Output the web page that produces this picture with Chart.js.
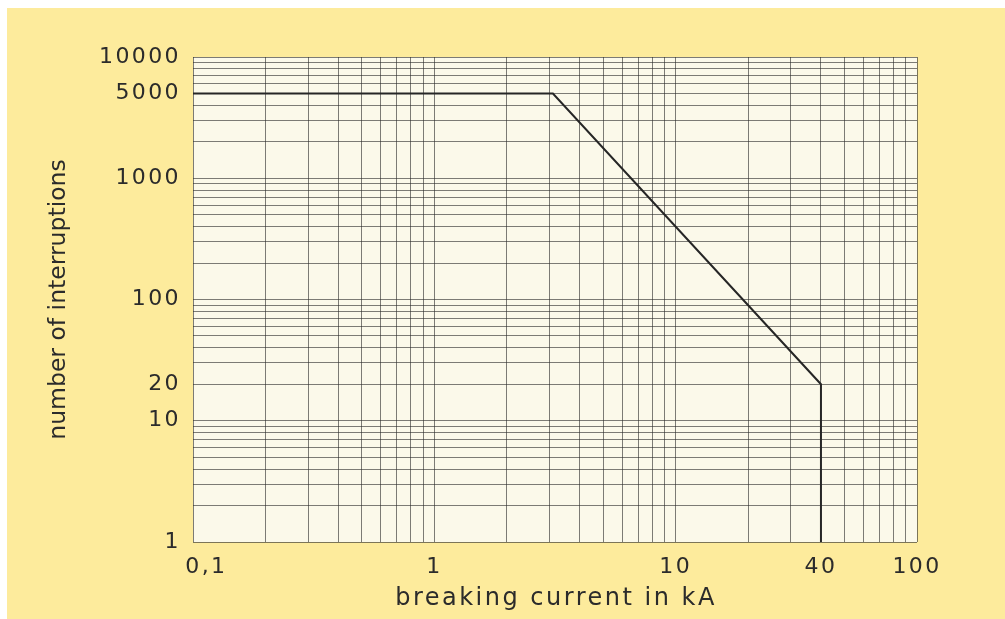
<!DOCTYPE html>
<html>
<head>
<meta charset="utf-8">
<script src="https://cdn.jsdelivr.net/npm/chart.js@4"></script>
<style>
  html, body { margin: 0; padding: 0; background: #ffffff; }
  #wrap { width: 1005px; height: 619px; }
</style>
</head>
<body>
<div id="wrap"><canvas id="lifeChart"></canvas></div>
<script>
// curve: number of interruptions vs breaking current
const currentKA = [0.1, 3.1, 40, 40];
const interruptions = [5000, 5000, 20, 1];

// only these ticks get a label, the rest of the log grid stays blank
const xTickValues = [0.1, 1, 10, 40, 100];
const xTickLabels = ["0,1", "1", "10", "40", "100"];
const yTickValues = [1, 10, 20, 100, 1000, 5000, 10000];
const yTickLabels = ["1", "10", "20", "100", "1000", "5000", "10000"];

const xTitle = "breaking current in kA";
const yTitle = "number of interruptions";

const textColor = "#2b2b2b";
const gridColor = "rgba(45, 45, 45, 0.62)";
const fontName = "'DejaVu Sans', sans-serif";

// log paper: a line at 1..9 in every decade
function decadeLines(min, max) {
  const out = [];
  const e0 = Math.round(Math.log10(min));
  const e1 = Math.round(Math.log10(max));
  for (let e = e0; e < e1; e++) {
    for (let s = 1; s <= 9; s++) {
      out.push({ value: Number((s * Math.pow(10, e)).toPrecision(3)) });
    }
  }
  out.push({ value: max });
  return out;
}

function labelFor(values, labels, v) {
  const i = values.findIndex(t => Math.abs(t - v) < t * 1e-6);
  return i < 0 ? "" : labels[i];
}

const paperPlugin = {
  id: "paper",
  beforeLayout(chart) {
    chart.ctx.letterSpacing = "2.4px";
  },
  beforeDraw(chart) {
    const { ctx, chartArea: a, width, height } = chart;
    ctx.save();
    ctx.fillStyle = "#ffffff";
    ctx.fillRect(0, 0, width, height);
    ctx.fillStyle = "#fdeb9c";
    ctx.fillRect(7, 8, width - 7, height - 8);
    ctx.fillStyle = "#fbf9ea";
    ctx.fillRect(a.left, a.top, a.right - a.left, a.bottom - a.top);
    ctx.restore();
    ctx.letterSpacing = "2.4px";
  },
  afterDraw(chart) {
    const { ctx, chartArea: a } = chart;
    ctx.save();
    ctx.fillStyle = textColor;
    ctx.textAlign = "center";
    ctx.textBaseline = "alphabetic";
    ctx.font = "24px " + fontName;
    ctx.letterSpacing = "2.5px";
    ctx.fillText(xTitle, (a.left + a.right) / 2 + 1, a.bottom + 63);
    ctx.letterSpacing = "0px";
    ctx.font = "23.5px " + fontName;
    ctx.translate(a.left - 128, (a.top + a.bottom) / 2);
    ctx.rotate(-Math.PI / 2);
    ctx.fillText(yTitle, 0, 0);
    ctx.restore();
  }
};

const ctx = document.getElementById("lifeChart").getContext("2d");
new Chart(ctx, {
  type: "line",
  data: {
    datasets: [{
      data: currentKA.map((x, i) => ({ x: x, y: interruptions[i] })),
      borderColor: "#262626",
      borderWidth: 2,
      pointRadius: 0,
      tension: 0,
      fill: false
    }]
  },
  options: {
    responsive: true,
    maintainAspectRatio: false,
    animation: false,
    events: [],
    layout: { padding: { left: 0, top: 57, right: 88, bottom: 0 } },
    plugins: {
      legend: { display: false },
      tooltip: { enabled: false }
    },
    scales: {
      x: {
        type: "logarithmic",
        min: 0.1,
        max: 100,
        afterBuildTicks: s => { s.ticks = decadeLines(0.1, 100); },
        afterFit: s => { s.height = 77; },
        border: { display: false },
        grid: { color: gridColor, lineWidth: 1, drawTicks: false },
        ticks: {
          autoSkip: false,
          maxRotation: 0,
          minRotation: 0,
          padding: 12,
          color: textColor,
          font: { family: fontName, size: 22 },
          callback: (v) => {
            const lab = labelFor(xTickValues, xTickLabels, v);
            // first label sits a little right of the axis corner
            return v === xTickValues[0] ? "\u2002\u2002" + lab : lab;
          }
        }
      },
      y: {
        type: "logarithmic",
        min: 1,
        max: 10000,
        afterBuildTicks: s => { s.ticks = decadeLines(1, 10000); },
        afterFit: s => { s.width = 193; },
        border: { display: false },
        grid: { color: gridColor, lineWidth: 1, drawTicks: false },
        ticks: {
          autoSkip: false,
          padding: 12,
          color: textColor,
          font: { family: fontName, size: 22 },
          callback: (v) => labelFor(yTickValues, yTickLabels, v)
        }
      }
    }
  },
  plugins: [paperPlugin]
});
</script>
</body>
</html>
